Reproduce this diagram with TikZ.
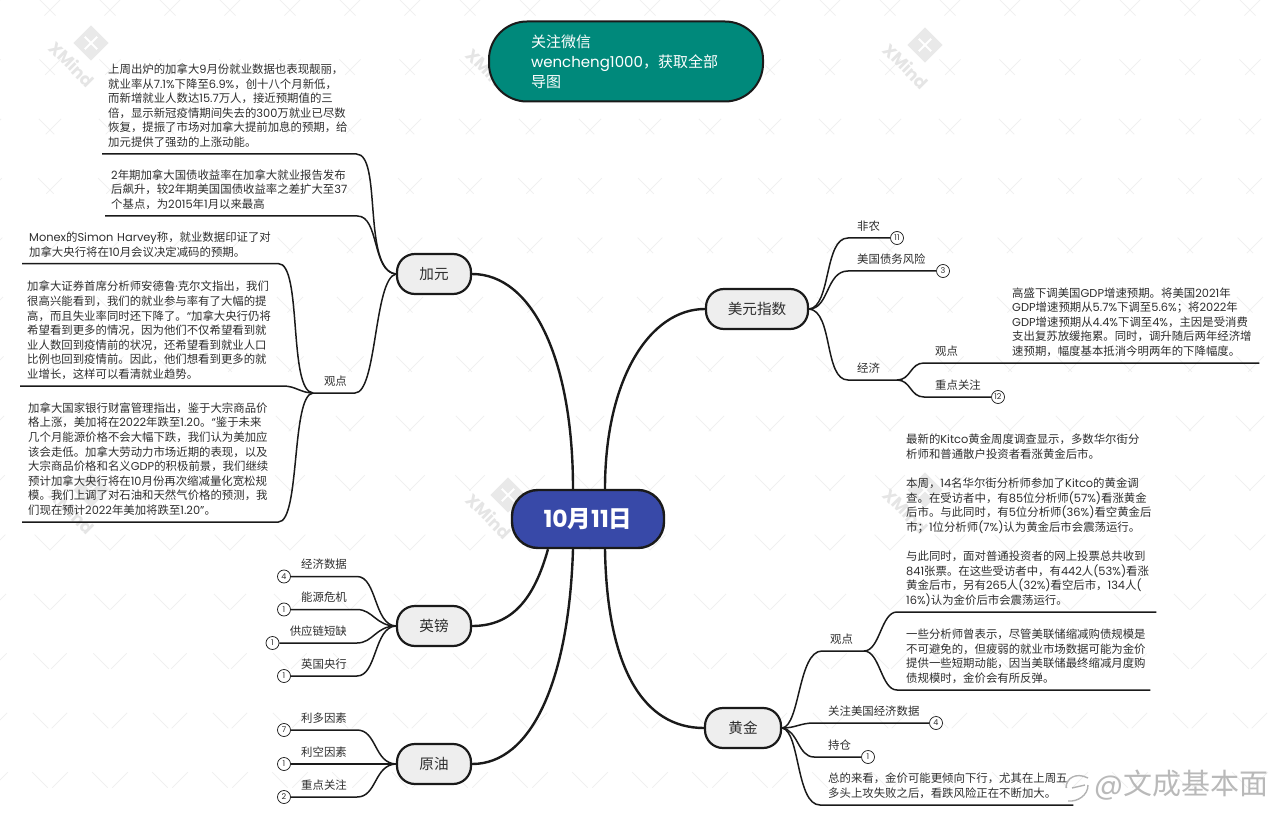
\documentclass[tikz,border=0pt]{standalone}
\usepackage{fontspec}
\setmainfont{Noto Sans CJK SC}
\newfontfamily\cjkfont{Noto Sans CJK SC}
\newfontfamily\latfont{Poppins}
\newXeTeXintercharclass\latclass
\newcount\chcode
\chcode=33
\loop \XeTeXcharclass\chcode=\latclass \advance\chcode 1 \ifnum\chcode<127 \repeat
\XeTeXcharclass"00B7=\latclass
\XeTeXcharclass"201C=\latclass
\XeTeXcharclass"201D=\latclass
\XeTeXinterchartoks 0 \latclass = {\latfont}
\XeTeXinterchartoks \latclass 0 = {\cjkfont}
\XeTeXinterchartoks 4095 \latclass = {\latfont}
\XeTeXinterchartoks 4095 0 = {\cjkfont}
\newcommand{\mixfont}[2]{\XeTeXinterchartokenstate=1 \fontsize{#1}{#2}\selectfont}
\definecolor{bodygray}{HTML}{2E2E2E}
\definecolor{linedark}{HTML}{1A1A1A}
\definecolor{rootblue}{HTML}{3849A8}
\definecolor{noteteal}{HTML}{00897B}
\definecolor{pillgray}{HTML}{EEEEEE}
\tikzset{
  rootbox/.style={draw=linedark,line width=2.4pt,fill=rootblue,text=white,rounded corners=26pt,
    minimum width=152pt,minimum height=58pt,font=\mixfont{23.5}{26}\bfseries},
  notebox/.style={draw=linedark,line width=2pt,fill=noteteal,text=white,rounded corners=38pt,align=left,
    minimum height=80pt,inner xsep=42pt,text width=190pt,font=\mixfont{15}{20}},
  topicbox/.style={draw=linedark,line width=2.2pt,fill=pillgray,text=bodygray,rounded corners=18pt,
    minimum height=40pt,font=\mixfont{14.6}{18}},
  leaftext/.style={anchor=south west,align=left,inner ysep=3pt,text=bodygray,
    font=\mixfont{11.4}{14.6},execute at end node=\strut},
  countbadge/.style={circle,draw=linedark,line width=.7pt,fill=white,text=bodygray,inner sep=0pt,
    minimum size=13pt,font=\mixfont{8}{9}},
  trunk/.style={draw=linedark,line width=2.4pt},
  branch/.style={draw=linedark,line width=1.5pt},
  hatch/.style={draw=gray!12,line width=.8pt,dash pattern=on 22pt off 62pt}
}
\begin{document}
\begin{tikzpicture}[x=1pt,y=-1pt]
\useasboundingbox (0,0) rectangle (1280,826);

% watermark underneath everything
\foreach \k in {-800,-740,...,1280} \draw[hatch] (\k,0) -- ++(826,826);
\foreach \k in {0,60,...,2100} \draw[hatch] (\k,0) -- ++(-826,826);
\foreach \mx/\my [count=\i] in {91/43,508/50,925/45,91/490,508/495,925/490} {
  \node[fill=gray!17,rotate=45,minimum size=25pt,inner sep=0pt] (logo\i) at (\mx,\my) {};
  \draw[white,line width=1.8pt,shorten >=4pt,shorten <=4pt] (logo\i.north) -- (logo\i.south);
  \draw[white,line width=1.8pt,shorten >=4pt,shorten <=4pt] (logo\i.east) -- (logo\i.west);
  \node[rotate=-45,text=gray!20,font=\mixfont{17}{20}\bfseries] (xm\i) at ([shift={(-19,21)}]\mx,\my) {XMind};
}

% main pills
\node[rootbox] (date) at (588,519) {10月11日};
\node[notebox] (follow) at (626,61.5) {关注微信\\wencheng1000，获取全部\\导图};
\node[topicbox,minimum width=74pt] (cad) at (434,274) {加元};
\node[topicbox,minimum width=102pt] (usd) at (757,309) {美元指数};
\node[topicbox,minimum width=74pt] (gbp) at (434,626) {英镑};
\node[topicbox,minimum width=74pt] (oil) at (434,764) {原油};
\node[topicbox,minimum width=76pt] (gold) at (743,728) {黄金};

\draw[trunk] ([xshift=-15pt]date.north) .. controls +(0,-130) and +(60,0) .. (cad.east);
\draw[trunk] ([xshift=17pt]date.north) .. controls +(0,-110) and +(-55,0) .. (usd.west);
\draw[trunk] ([xshift=-40pt]date.south) .. controls +(-14,50) and +(40,0) .. (gbp.east);
\draw[trunk] ([xshift=-15pt]date.south) .. controls +(-4,130) and +(60,0) .. (oil.east);
\draw[trunk] ([xshift=17pt]date.south) .. controls +(2,120) and +(-60,0) .. (gold.west);

% cad
\node[leaftext,inner xsep=6pt,text width=242pt] (cadjobs) at (102,154) {上周出炉的加拿大9月份就业数据也表现靓丽，\\就业率从7.1\%下降至6.9\%，创十八个月新低，\\而新增就业人数达15.7万人，接近预期值的三\\倍，显示新冠疫情期间失去的300万就业已尽数\\恢复，提振了市场对加拿大提前加息的预期，给\\加元提供了强劲的上涨动能。};
\node[leaftext,inner xsep=6pt,text width=240pt] (cadyield) at (105,216) {2年期加拿大国债收益率在加拿大就业报告发布\\后飙升，较2年期美国国债收益率之差扩大至37\\个基点，为2015年1月以来最高};
\node[leaftext,anchor=south east,inner xsep=8pt] (cadview) at (355,393) {观点};
\coordinate (cadhub) at (313,393);
\node[leaftext,inner xsep=7pt,text width=242pt] (cadmonex) at (22,263.6) {Monex的Simon Harvey称，就业数据印证了对\\加拿大央行将在10月会议决定减码的预期。};
\node[leaftext,inner xsep=7pt,text width=249pt] (cadcibc) at (20,386) {加拿大证券首席分析师安德鲁·克尔文指出，我们\\很高兴能看到，我们的就业参与率有了大幅的提\\高，而且失业率同时还下降了。“加拿大央行仍将\\希望看到更多的情况，因为他们不仅希望看到就\\业人数回到疫情前的状况，还希望看到就业人口\\比例也回到疫情前。因此，他们想看到更多的就\\业增长，这样可以看清就业趋势。};
\node[leaftext,inner xsep=6pt,text width=244pt] (cadbank) at (22,522) {加拿大国家银行财富管理指出，鉴于大宗商品价\\格上涨，美加将在2022年跌至1.20。“鉴于未来\\几个月能源价格不会大幅下跌，我们认为美加应\\该会走低。加拿大劳动力市场近期的表现，以及\\大宗商品价格和名义GDP的积极前景，我们继续\\预计加拿大央行将在10月份再次缩减量化宽松规\\模。我们上调了对石油和天然气价格的预测，我\\们现在预计2022年美加将跌至1.20”。};
\draw[branch] (cad.west) .. controls +(-34,-4) and +(26,0) .. (cadjobs.south east) -- (cadjobs.south west);
\draw[branch] (cad.west) .. controls +(-24,-2) and +(22,0) .. (cadyield.south east) -- (cadyield.south west);
\draw[branch] (cad.west) .. controls +(-22,5) and +(22,0) .. (cadview.south east) -- (cadhub);
\draw[branch] (cadhub) .. controls +(-25,-2) and +(24,0) .. (cadmonex.south east) -- (cadmonex.south west);
\draw[branch] (cadhub) .. controls +(-12,0) and +(12,0) .. (cadcibc.south east) -- (cadcibc.south west);
\draw[branch] (cadhub) .. controls +(-22,2) and +(22,0) .. (cadbank.south east) -- (cadbank.south west);

% gbp
\node[leaftext,anchor=south east,inner xsep=10pt] (gbpdata) at (357,576.5) {经济数据};
\node[leaftext,anchor=south east,inner xsep=10pt] (gbpenergy) at (357,609.5) {能源危机};
\node[leaftext,anchor=south east,inner xsep=10pt] (gbpsupply) at (357,643) {供应链短缺};
\node[leaftext,anchor=south east,inner xsep=10pt] (gbpboe) at (357,676) {英国央行};
\node[countbadge] (gbpdatan) at (284,576.5) {4};
\node[countbadge] (gbpenergyn) at (284,609.5) {1};
\node[countbadge] (gbpsupplyn) at (272.5,643) {1};
\node[countbadge] (gbpboen) at (284,676) {1};
\draw[branch] (gbp.west) .. controls +(-22,-1) and +(20,0) .. (gbpdata.south east) -- (gbpdatan);
\draw[branch] (gbp.west) .. controls +(-20,0) and +(16,0) .. (gbpenergy.south east) -- (gbpenergyn);
\draw[branch] (gbp.west) .. controls +(-20,0) and +(16,0) .. (gbpsupply.south east) -- (gbpsupplyn);
\draw[branch] (gbp.west) .. controls +(-22,1) and +(20,0) .. (gbpboe.south east) -- (gbpboen);

% oil
\node[leaftext,anchor=south east,inner xsep=10pt] (oilup) at (357,730) {利多因素};
\node[leaftext,anchor=south east,inner xsep=10pt] (oildown) at (357,764) {利空因素};
\node[leaftext,anchor=south east,inner xsep=10pt] (oilkey) at (357,797) {重点关注};
\node[countbadge] (oilupn) at (284,730) {7};
\node[countbadge] (oildownn) at (284,764) {1};
\node[countbadge] (oilkeyn) at (284,797) {2};
\draw[branch] (oil.west) .. controls +(-22,-1) and +(20,0) .. (oilup.south east) -- (oilupn);
\draw[branch] (oil.west) -- (oildownn);
\draw[branch] (oil.west) .. controls +(-22,1) and +(20,0) .. (oilkey.south east) -- (oilkeyn);

% usd
\node[leaftext,inner xsep=9pt] (usdjobs) at (848,238) {非农};
\node[leaftext,inner xsep=9pt] (usddebt) at (848,271) {美国债务风险};
\node[leaftext,inner xsep=9pt] (usdecon) at (848,380) {经济};
\coordinate (usdhub) at (897,380);
\node[leaftext,inner xsep=11pt] (usdview) at (924,363) {观点};
\node[leaftext,inner xsep=10pt,text width=237pt] (usdgoldman) at (1002,363) {高盛下调美国GDP增速预期。将美国2021年\\GDP增速预期从5.7\%下调至5.6\%；将2022年\\GDP增速预期从4.4\%下调至4\%，主因是受消费\\支出复苏放缓拖累。同时，调升随后两年经济增\\速预期，幅度基本抵消今明两年的下降幅度。};
\node[leaftext,inner xsep=11pt] (usdkey) at (924,397) {重点关注};
\node[countbadge] (usdjobsn) at (897,238) {11};
\node[countbadge] (usddebtn) at (943,271) {3};
\node[countbadge] (usdkeyn) at (998,397) {12};
\draw[branch] (usd.east) .. controls +(22,-2) and +(-24,0) .. (usdjobs.south west) -- (usdjobsn);
\draw[branch] (usd.east) .. controls +(20,0) and +(-22,0) .. (usddebt.south west) -- (usddebtn);
\draw[branch] (usd.east) .. controls +(24,2) and +(-24,0) .. (usdecon.south west) -- (usdhub);
\draw[branch] (usdhub) .. controls +(14,0) and +(-14,0) .. (usdview.south west) -- (usdgoldman.south east);
\draw[branch] (usdhub) .. controls +(14,0) and +(-14,0) .. (usdkey.south west) -- (usdkeyn);

% gold
\node[leaftext,inner xsep=8pt] (goldview) at (822,651) {观点};
\coordinate (goldhub) at (864,651);
\node[leaftext,inner xsep=9pt,text width=241pt] (goldkitco) at (897,612) {最新的Kitco黄金周度调查显示，多数华尔街分\\析师和普通散户投资者看涨黄金后市。\\[14.6pt]本周，14名华尔街分析师参加了Kitco的黄金调\\查。在受访者中，有85位分析师(57\%)看涨黄金\\后市。与此同时，有5位分析师(36\%)看空黄金后\\市；1位分析师(7\%)认为黄金后市会震荡运行。\\[14.6pt]与此同时，面对普通投资者的网上投票总共收到\\841张票。在这些受访者中，有442人(53\%)看涨\\黄金后市，另有265人(32\%)看空后市，134人(\\16\%)认为金价后市会震荡运行。};
\node[leaftext,inner xsep=9pt,text width=235pt] (goldfed) at (897,690) {一些分析师曾表示，尽管美联储缩减购债规模是\\不可避免的，但疲弱的就业市场数据可能为金价\\提供一些短期动能，因当美联储最终缩减月度购\\债规模时，金价会有所反弹。};
\node[leaftext,inner xsep=14pt] (golddata) at (814,723) {关注美国经济数据};
\node[leaftext,inner xsep=14pt] (goldhold) at (814,757) {持仓};
\node[leaftext,inner xsep=8pt,text width=237pt] (goldsum) at (820,805) {总的来看，金价可能更倾向下行，尤其在上周五\\多头上攻失败之后，看跌风险正在不断加大。};
\node[countbadge] (golddatan) at (936,723) {4};
\node[countbadge] (goldholdn) at (868,757) {1};
\draw[branch] (gold.east) .. controls +(18,-2) and +(-24,0) .. (goldview.south west) -- (goldhub);
\draw[branch] (goldhub) .. controls +(16,0) and +(-16,0) .. (goldkitco.south west) -- (goldkitco.south east);
\draw[branch] (goldhub) .. controls +(16,0) and +(-16,0) .. (goldfed.south west) -- (goldfed.south east);
\draw[branch] (gold.east) .. controls +(14,0) and +(-14,0) .. (golddata.south west) -- (golddatan);
\draw[branch] (gold.east) .. controls +(16,2) and +(-16,0) .. (goldhold.south west) -- (goldholdn);
\draw[branch] (gold.east) .. controls +(18,3) and +(-24,0) .. (goldsum.south west) -- (goldsum.south east);

% weibo mark
\node[text=gray!55,inner sep=0pt,font=\mixfont{29}{32}] (weibo) at (1181,785) {@文成基本面};
\draw[gray!60,line width=1.4pt] (1066,788) .. controls (1066,778) and (1076,772) .. (1088,778);
\draw[gray!60,line width=1.4pt] (1088,785) .. controls (1088,795) and (1078,802) .. (1068,801);
\draw[gray!60,line width=1.4pt] (1072,788) -- (1085,785);
\end{tikzpicture}
\end{document}
